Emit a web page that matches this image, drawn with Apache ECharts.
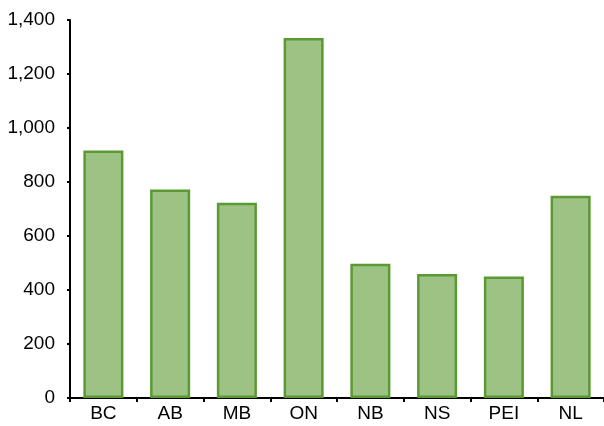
<!DOCTYPE html>
<html>
<head>
<meta charset="utf-8">
<script src="https://cdn.jsdelivr.net/npm/echarts@6/dist/echarts.min.js"></script>
<style>
  html, body { margin: 0; padding: 0; background: #fff; }
  #chart { width: 604px; height: 426px; }
</style>
</head>
<body>
<div id="chart"></div>
<script>
// provinces along the x axis
var provinces = ['BC', 'AB', 'MB', 'ON', 'NB', 'NS', 'PEI', 'NL'];
// bar heights
var values = [917, 772, 723, 1333, 497, 459, 450, 749];
// y axis range
var yMin = 0;
var yMax = 1400;
var yStep = 200;

var font = '"Liberation Sans Narrow", "Liberation Sans", Arial, sans-serif';

var chart = echarts.init(document.getElementById('chart'));
chart.setOption({
  animation: false,
  grid: { left: 70, right: 0, top: 20, bottom: 28 },
  xAxis: {
    type: 'category',
    data: provinces,
    axisLine: { lineStyle: { color: '#000', width: 2 } },
    axisTick: { show: true, length: 4, lineStyle: { color: '#000', width: 2 } },
    axisLabel: { color: '#000', fontFamily: font, fontSize: 19, margin: 6 }
  },
  yAxis: {
    type: 'value',
    min: yMin,
    max: yMax,
    interval: yStep,
    axisLine: { show: true, lineStyle: { color: '#000', width: 2 } },
    axisTick: { show: true, length: 3, lineStyle: { color: '#000', width: 2 } },
    splitLine: { show: false },
    axisLabel: {
      color: '#000', fontFamily: font, fontSize: 19, margin: 15,
      formatter: function (v) { return v.toLocaleString('en-US'); }
    }
  },
  series: [{
    type: 'bar',
    data: values,
    barCategoryGap: '40%',
    itemStyle: { color: '#9dc384', borderColor: '#5b9a32', borderWidth: 2.5 }
  }]
});
</script>
</body>
</html>
